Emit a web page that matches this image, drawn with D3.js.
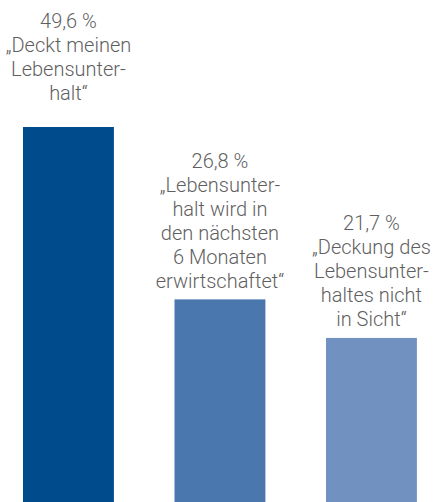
<!DOCTYPE html>
<style>
    body { margin: 0; background: #fff; }
    text {
        font-family: Roboto, "Open Sans", sans-serif;
        font-size: 20px;
        font-weight: 300;
        fill: #5f5f5f;
    }
</style>
<body>
<script src="https://cdn.jsdelivr.net/npm/d3@7"></script>
<script>
// data
var categories = ["deckt", "naechste6", "nichtInSicht"];
var values = [49.6, 26.8, 21.7];
var labels = [
    ["49,6 %", "\u201EDeckt meinen", "Lebensunter-", "halt\u201C"],
    ["26,8 %", "\u201ELebensunter-", "halt wird in", "den n\u00E4chsten", "6 Monaten", "erwirtschaftet\u201C"],
    ["21,7 %", "\u201EDeckung des", "Lebensunter-", "haltes nicht", "in Sicht\u201C"]
];
var colors = ["#004b8c", "#4a77ad", "#7191c0"];

// layout
var width = 434, height = 502;
var lineHeight = 24;
var labelGap = [27, 11, 12]; // space between last label line and bar top

var x = d3.scaleBand().domain(categories).range([-7.3, 447.2])
    .paddingInner(0.4).paddingOuter(0.2);
var y = d3.scaleLinear().domain([0, d3.max(values)]).range([height, 127]);

var svg = d3.select("body").append("svg")
    .attr("width", width)
    .attr("height", height);

var bars = svg.selectAll("g.bar").data(categories).enter().append("g")
    .attr("class", "bar");

bars.append("rect")
    .attr("x", function(d) { return x(d); })
    .attr("y", function(d, i) { return y(values[i]); })
    .attr("width", x.bandwidth())
    .attr("height", function(d, i) { return height - y(values[i]); })
    .attr("fill", function(d, i) { return colors[i]; });

bars.append("text")
    .attr("text-anchor", "middle")
    .each(function(d, i) {
        var t = d3.select(this);
        var lines = labels[i];
        var last = y(values[i]) - labelGap[i];
        lines.forEach(function(line, j) {
            t.append("tspan")
                .attr("x", x(d) + x.bandwidth() / 2)
                .attr("y", last - (lines.length - 1 - j) * lineHeight)
                .text(line);
        });
    });
</script>
